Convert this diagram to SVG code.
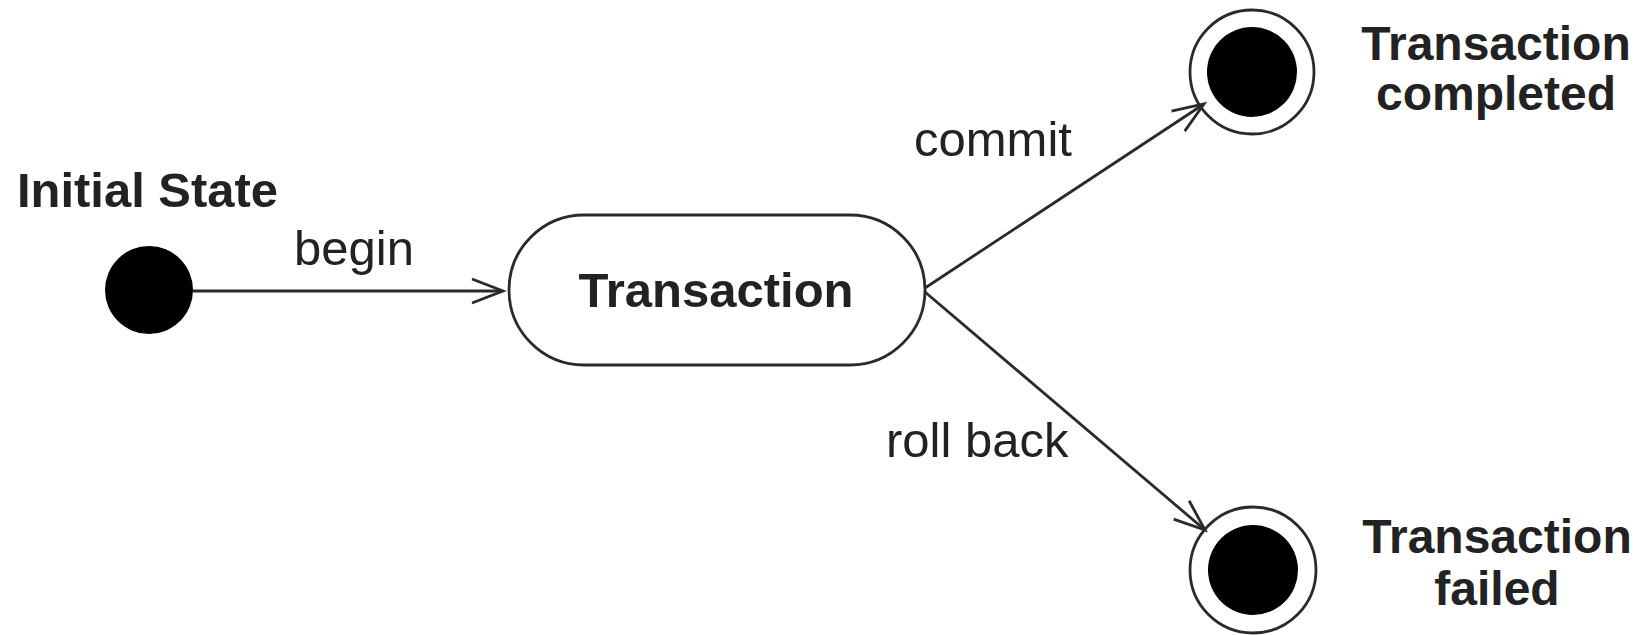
<svg xmlns="http://www.w3.org/2000/svg" width="1647" height="635" viewBox="0 0 1647 635">
  <style>
    .label { font-family: "Liberation Sans", Arial, Helvetica, sans-serif; font-size: 49px; fill: #222; }
    .bold { font-weight: bold; }
    .final-label { font-size: 48px; }
    .edge { fill: none; stroke: #2a2a2a; stroke-width: 2.8; }
    .ring { fill: #fff; stroke: #2a2a2a; stroke-width: 2.8; }
    .dot { fill: #000; }
  </style>
  <defs>
    <marker id="open-arrow" markerUnits="userSpaceOnUse" markerWidth="40" markerHeight="32" viewBox="-34 -16 40 32" refX="0" refY="0" orient="auto">
      <path d="M-31,-12 L0,0 L-31,12" fill="none" stroke="#2a2a2a" stroke-width="2.8" stroke-linejoin="miter"/>
    </marker>
  </defs>
  <rect width="1647" height="635" fill="#fff"/>

  <!-- initial pseudo-state -->
  <g id="initial">
    <circle class="dot" cx="149" cy="290" r="44"/>
    <text class="label bold" x="17" y="207" textLength="261" lengthAdjust="spacingAndGlyphs">Initial State</text>
  </g>

  <!-- Transaction state -->
  <g id="transaction">
    <rect class="ring" x="509" y="215" width="416" height="150" rx="75" ry="75"/>
    <text class="label bold" x="716" y="307" text-anchor="middle">Transaction</text>
  </g>

  <!-- final state: completed -->
  <g id="completed">
    <circle class="ring" cx="1252" cy="72" r="62"/>
    <circle class="dot" cx="1252" cy="72" r="45"/>
    <text class="label bold final-label" x="1496" y="60" text-anchor="middle">Transaction</text>
    <text class="label bold final-label" x="1496" y="110" text-anchor="middle">completed</text>
  </g>

  <!-- final state: failed -->
  <g id="failed">
    <circle class="ring" cx="1253" cy="570" r="63"/>
    <circle class="dot" cx="1253" cy="570" r="45"/>
    <text class="label bold final-label" x="1497" y="553" text-anchor="middle">Transaction</text>
    <text class="label bold final-label" x="1497" y="605" text-anchor="middle">failed</text>
  </g>

  <!-- transitions -->
  <g id="connectors">
    <line class="edge" x1="193" y1="291" x2="503" y2="291" marker-end="url(#open-arrow)"/>
    <text class="label" x="294" y="265">begin</text>

    <line class="edge" x1="925" y1="288" x2="1204" y2="104" marker-end="url(#open-arrow)"/>
    <text class="label" x="914" y="156">commit</text>

    <line class="edge" x1="925" y1="292" x2="1205" y2="530" marker-end="url(#open-arrow)"/>
    <text class="label" x="886" y="457">roll back</text>
  </g>
</svg>
